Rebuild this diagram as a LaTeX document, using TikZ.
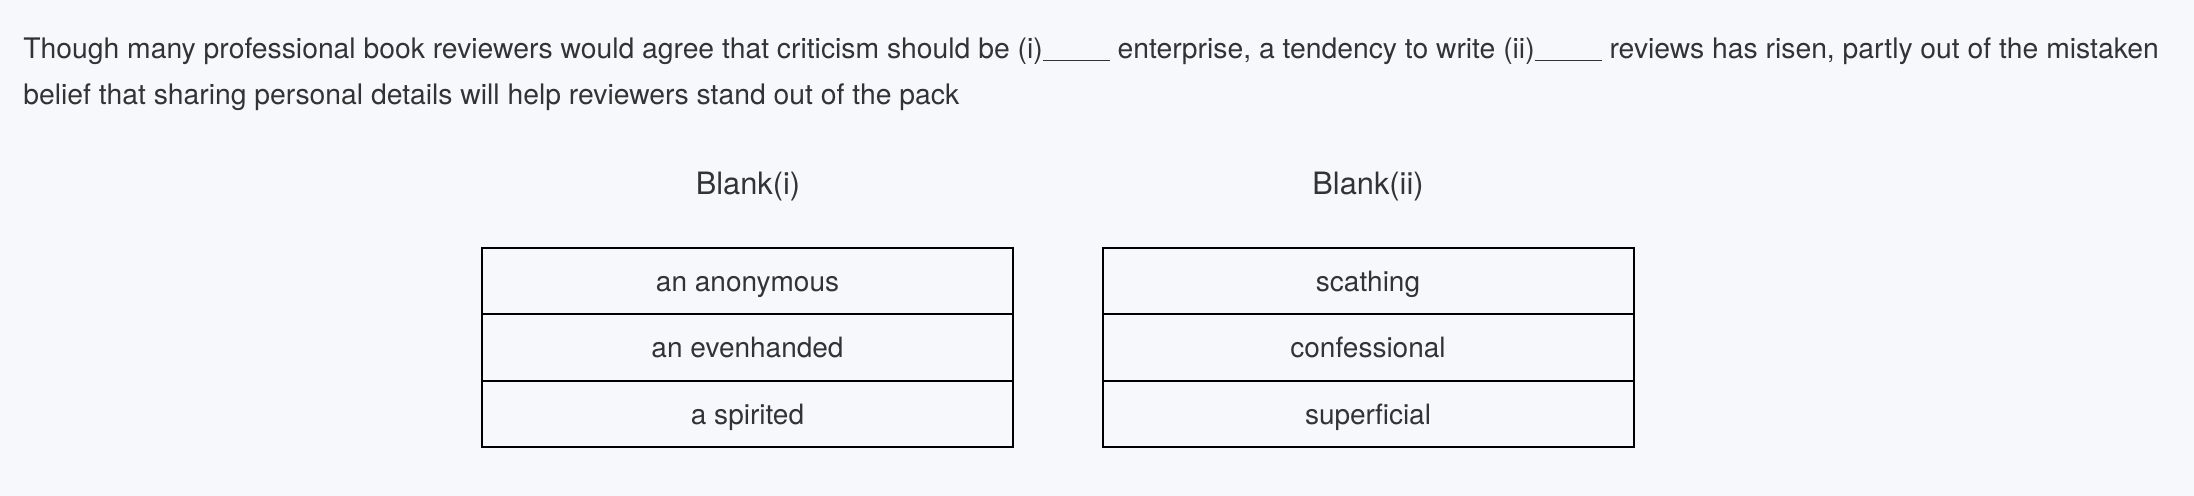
\documentclass[tikz,border=0pt]{standalone}
\usepackage{fontspec}
\setmainfont{TeX Gyre Heros}
\usetikzlibrary{positioning}
\definecolor{pagebg}{HTML}{F7F8FC}
\definecolor{inkgray}{HTML}{333333}
\newcommand{\gapline}{\rule[-1.6pt]{33.5pt}{0.8pt}}
\tikzset{
    stem/.style = {anchor=base west, inner sep=0pt, text=inkgray, font=\fontsize{14.15pt}{16pt}\selectfont},
    blankhead/.style = {anchor=base, inner sep=0pt, text=inkgray, font=\fontsize{15.4pt}{18pt}\selectfont},
    choice/.style = {rectangle, draw=black, line width=1pt, minimum width=265.5pt, minimum height=33.2pt, inner sep=0pt, text=inkgray, text height=11.6pt, text depth=1.3pt, font=\fontsize{14pt}{16pt}\selectfont},
}
\begin{document}
\begin{tikzpicture}[x=0.5pt,y=-0.5pt]
\path[use as bounding box, fill=pagebg] (0,0) rectangle (2194,496);
%
\node[stem] at (23,58.3) (line1) {Though many professional book reviewers would agree that criticism should be (i)\gapline{} enterprise, a tendency to write (ii)\gapline{} reviews has risen, partly out of the mistaken};
\node[stem] at (23,105) (line2) {belief that sharing personal details will help reviewers stand out of the pack};
%
\node[blankhead] at (748,195) (headi) {Blank(i)};
\node[blankhead] at (1368,195) (headii) {Blank(ii)};
%
\node[choice] at (747.5,281.2) (i1) {an anonymous};
\node[choice] at (747.5,347.5) (i2) {an evenhanded};
\node[choice] at (747.5,413.8) (i3) {a spirited};
%
\node[choice] at (1368,281.2) (ii1) {scathing};
\node[choice] at (1368,347.5) (ii2) {confessional};
\node[choice] at (1368,413.8) (ii3) {superficial};

\end{tikzpicture}
\end{document}
